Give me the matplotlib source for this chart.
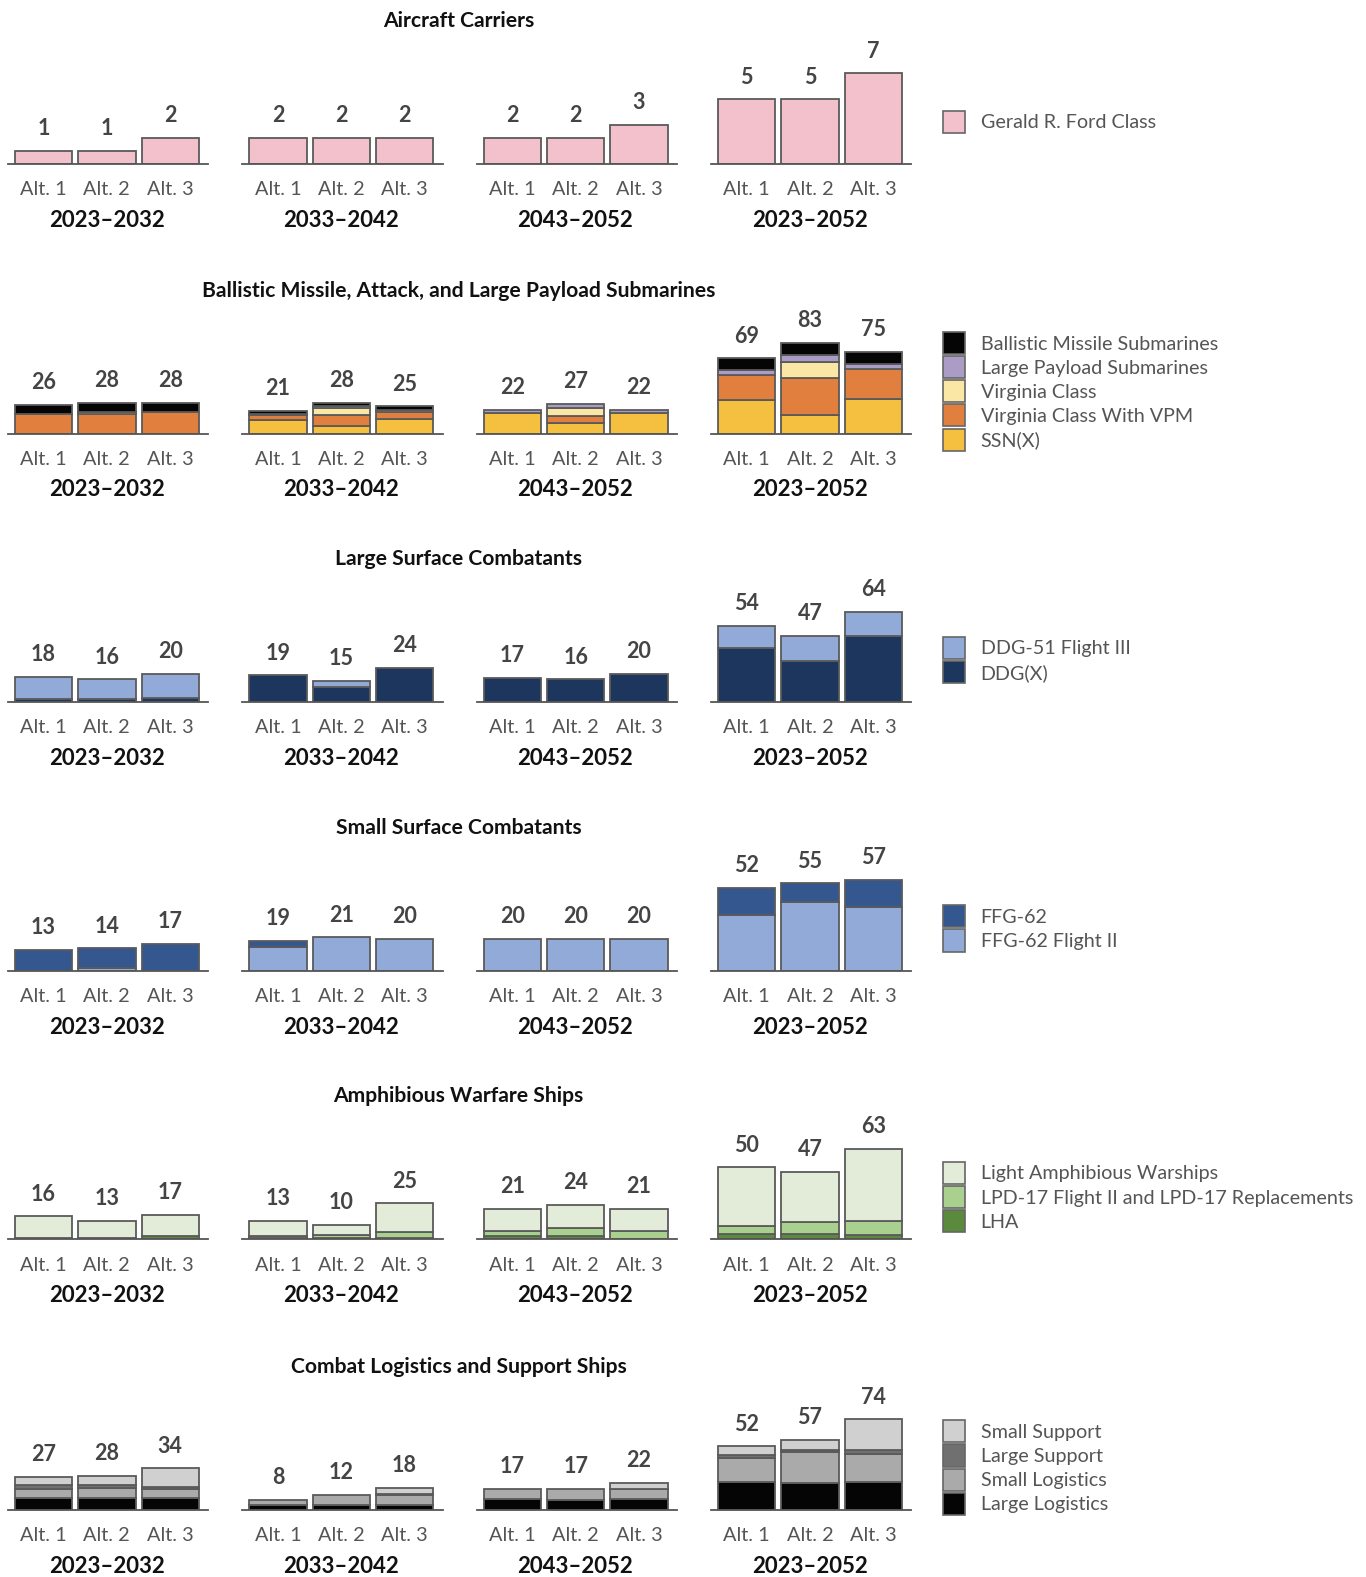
import matplotlib
matplotlib.use("Agg")
import matplotlib.pyplot as plt
from matplotlib.patches import Rectangle
import numpy as np

plt.rcParams['font.family'] = ['Lato', 'DejaVu Sans']

# ---------------- data ----------------
periods = ["2023–2032", "2033–2042", "2043–2052", "2023–2052"]
alts = ["Alt. 1", "Alt. 2", "Alt. 3"]

# each array: [period][alternative]
carrier_ford = [[1, 1, 2], [2, 2, 2], [2, 2, 3], [5, 5, 7]]

sub_ssnx = [[0, 0, 0], [12, 7, 13], [19, 10, 19], [31, 17, 32]]
sub_vpm = [[18, 18, 20], [5, 10, 7], [0, 6, 0], [23, 34, 27]]
sub_virginia = [[0, 2, 0], [0, 6, 0], [0, 7, 0], [0, 15, 0]]
sub_lps = [[0, 0, 0], [1, 2, 2], [3, 4, 3], [4, 6, 5]]
sub_ssbn = [[8, 8, 8], [3, 3, 3], [0, 0, 0], [11, 11, 11]]

lsc_ddgx = [[2, 2, 3], [19, 11, 24], [17, 16, 20], [38, 29, 47]]
lsc_flight3 = [[16, 14, 17], [0, 4, 0], [0, 0, 0], [16, 18, 17]]

ssc_flight2 = [[0, 2, 0], [15, 21, 20], [20, 20, 20], [35, 43, 40]]
ssc_ffg62 = [[13, 12, 17], [4, 0, 0], [0, 0, 0], [17, 12, 17]]

amph_lha = [[1, 1, 2], [1, 1, 1], [2, 2, 0], [4, 4, 3]]
amph_lpd = [[0, 0, 0], [1, 2, 4], [4, 6, 6], [5, 8, 10]]
amph_law = [[15, 12, 15], [11, 7, 20], [15, 16, 15], [41, 35, 50]]

log_large_log = [[10, 10, 10], [4, 4, 4], [9, 8, 9], [23, 22, 23]]
log_small_log = [[7, 8, 7], [4, 8, 8], [8, 9, 8], [19, 25, 23]]
log_large_sup = [[3, 2, 2], [0, 0, 1], [0, 0, 0], [3, 2, 3]]
log_small_sup = [[7, 8, 15], [0, 0, 5], [0, 0, 5], [7, 8, 25]]

row_titles = ["Aircraft Carriers",
              "Ballistic Missile, Attack, and Large Payload Submarines",
              "Large Surface Combatants",
              "Small Surface Combatants",
              "Amphibious Warfare Ships",
              "Combat Logistics and Support Ships"]

# series listed bottom-to-top of the stack
rows = [
    [("Gerald R. Ford Class", carrier_ford, "#f2c1cc")],
    [("SSN(X)", sub_ssnx, "#f5c03f"),
     ("Virginia Class With VPM", sub_vpm, "#e07f3e"),
     ("Virginia Class", sub_virginia, "#fae7a5"),
     ("Large Payload Submarines", sub_lps, "#aa9cc4"),
     ("Ballistic Missile Submarines", sub_ssbn, "#050505")],
    [("DDG(X)", lsc_ddgx, "#1d365d"),
     ("DDG-51 Flight III", lsc_flight3, "#91aad8")],
    [("FFG-62 Flight II", ssc_flight2, "#91aad8"),
     ("FFG-62", ssc_ffg62, "#34578f")],
    [("LHA", amph_lha, "#5b8a3d"),
     ("LPD-17 Flight II and LPD-17 Replacements", amph_lpd, "#aad08f"),
     ("Light Amphibious Warships", amph_law, "#e3ecd9")],
    [("Large Logistics", log_large_log, "#050505"),
     ("Small Logistics", log_small_log, "#aaaaaa"),
     ("Large Support", log_large_sup, "#707070"),
     ("Small Support", log_small_sup, "#d0d0d0")],
]

# ---------------- layout ----------------
W, H = 1366, 1577
S = W / 1358.0
fig = plt.figure(figsize=(W / 100, H / 100), dpi=100)
fig.patch.set_facecolor("white")


def fx(x):
    return x * S / W


def fy(y):
    return 1 - y * S / H


baselines = [163, 431, 698, 965, 1232, 1501]
panel_lefts = [8, 241, 474, 707]
panel_w = 199
axes_h = 100
edge = "#5a5a5a"
bar_w = 0.905

for r, series in enumerate(rows):
    base = baselines[r]
    stack = np.array([s[1] for s in series], dtype=float)
    totals = stack.sum(axis=0)
    ymax = totals.max()
    for p in range(4):
        ax = fig.add_axes([fx(panel_lefts[p]), fy(base), panel_w * S / W, axes_h * S / H])
        ax.set_xlim(-0.56, 2.6)
        ax.set_ylim(0, ymax * axes_h / 90.0)
        for sp in ["top", "left", "right"]:
            ax.spines[sp].set_visible(False)
        ax.spines["bottom"].set_color("#555555")
        ax.spines["bottom"].set_linewidth(1.3)
        ax.set_yticks([])
        ax.set_xticks(range(3))
        ax.set_xticklabels(alts, fontsize=14.3, color="#555555")
        ax.tick_params(axis="x", length=0, pad=12.5)
        ax.patch.set_alpha(0)
        bottoms = np.zeros(3)
        for name, vals, col in series:
            v = np.array(vals[p], dtype=float)
            for i in range(3):
                if v[i] > 0:
                    ax.bar(i, v[i], bottom=bottoms[i], width=bar_w, color=col,
                           edgecolor=edge, linewidth=1.3, zorder=2)
            bottoms += v
        for i in range(3):
            ax.annotate(f"{int(totals[p][i])}", (i, totals[p][i]),
                        xytext=(0, 16), textcoords="offset points",
                        ha="center", va="center", fontsize=15.5,
                        fontweight="bold", color="#444444", annotation_clip=False)
        fig.text(fx(panel_lefts[p] + 98), fy(base + 56), periods[p],
                 ha="center", va="center", fontsize=16, fontweight="bold",
                 color="#111111")
    fig.text(fx(456), fy(base - 142), row_titles[r], ha="center", va="center",
             fontsize=15.2, fontweight="bold", color="#111111")
    # legend
    n = len(series)
    for k, (name, _, col) in enumerate(reversed(series)):
        cy = base - 42 + (k - (n - 1) / 2.0) * 24
        fig.patches.append(Rectangle((fx(937), fy(cy + 11)), 22 * S / W, 22 * S / H,
                                     transform=fig.transFigure, facecolor=col,
                                     edgecolor="#666666", linewidth=1.2))
        fig.text(fx(975), fy(cy + 1), name, ha="left", va="center", fontsize=14.2,
                 color="#555555")

fig.savefig("out.png", dpi=100)
